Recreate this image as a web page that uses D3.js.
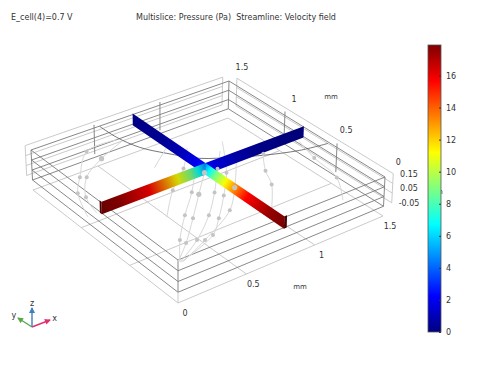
<!DOCTYPE html>
<html>
<head>
<meta charset="utf-8">
<script src="https://cdn.jsdelivr.net/npm/d3@7"></script>
<style>
  html, body { margin: 0; padding: 0; background: #fff; }
  svg { display: block; }
  text { font-family: "DejaVu Sans", sans-serif; fill: #333; }
</style>
</head>
<body>
<div id="container"></div>
<script>
/* CONSTANTS AND DATA */
const width = 498;
const height = 378;

const xTicks = [0, 0.5, 1, 1.5];
const yTicks = [0, 0.5, 1, 1.5];
const zTicks = [0.15, 0.05, -0.05];
const zLevels = [0.15, 0.05, -0.05, -0.15];
const zFloor = -0.25;
const barTicks = [0, 2, 4, 6, 8, 10, 12, 14, 16];
const barMax = 17.9;

// jet colormap
const jetValues = [0, 2.24, 6.71, 11.19, 15.66, 17.9];
const jetColors = ["#00007f", "#0000ff", "#00ffff", "#ffff00", "#ff0000", "#7f0000"];

// pressure, each arm runs from the centre out
const armFraction = [0, 0.08, 0.16, 0.24, 0.36, 0.56, 0.85, 1];
const pressureHigh = [4.5, 6.7, 8.9, 10.3, 12.5, 15.7, 17.5, 17.9];
const pressureLow = [2.5, 2, 1.6, 1.2, 0.8, 0.35, 0.15, 0.1];
const sliceX = 0.77;
const sliceY = 0.78;
const sliceZ = [0.16, 0.04];

// streamlines in mm on the floor plane
const streamlines = [
  [[0.255, 0.356], [0.415, 0.494], [0.613, 0.692], [0.803, 0.887], [0.982, 1.066]],
  [[0.264, 0.349], [0.405, 0.543], [0.594, 0.748], [0.783, 0.931], [1.027, 1.205]],
  [[0.265, 0.347], [0.487, 0.481], [0.709, 0.661], [0.892, 0.848], [1.073, 1.056], [1.215, 1.213]],
  [[0.27, 0.345], [0.596, 0.468], [0.736, 0.598], [0.915, 0.787], [1.088, 0.987], [1.296, 1.298]],
  [[0.28, 0.34], [0.525, 0.452], [0.842, 0.63], [1.022, 0.82], [1.221, 1.062]],
  [[0.493, 0.794], [0.704, 1.017], [0.909, 1.179], [1.076, 1.358]],
  [[0.174, 1.076], [0.225, 1.257], [0.364, 1.435], [0.57, 1.556], [0.802, 1.65]],
  [[0.103, 1.072], [0.21, 1.321], [0.329, 1.458], [0.543, 1.672], [0.78, 1.68]],
  [[1.059, 0.503], [1.218, 0.713], [1.287, 0.863], [1.4, 1.03], [1.425, 1.052]],
  [[1.433, 0.3], [1.566, 0.534], [1.607, 0.803], [1.661, 1.017]],
  [[0.773, 1.29], [0.992, 1.447]]
];
const bigDots = [[0.982, 1.066], [0.803, 0.887], [0.57, 1.556], [1.022, 0.82]];

// dark curve across the top of the box
const backCurve = [[0.518, 1.497], [0.525, 1.336], [0.568, 1.164], [0.659, 1.014], [0.783, 0.852],
  [0.947, 0.746], [1.102, 0.657], [1.309, 0.571], [1.488, 0.534]];

const triadNames = ["x", "y", "z"];
const triadColors = ["#e0306e", "#5aa84a", "#3f7fbf"];
const triadDx = [18, -14, 0];
const triadDy = [-7, -9, -19];

/* PROJECTION: trilinear between the four corners of the box seen in the view */
const topCorners = { o: [178, 260], r: [385, 177], l: [31, 150], b: [229, 81] };
const botCorners = { o: [178, 303], r: [383, 216], l: [33, 190], b: [228, 118] };

const xScale = d3.scaleLinear().domain([0, 1.5]).range([0, 1]);
const yScale = d3.scaleLinear().domain([0, 1.5]).range([0, 1]);
const zScale = d3.scaleLinear().domain([0.15, zFloor]).range([0, 1]);

function bilinear(c, u, v, i) {
  return c.o[i] * (1 - u) * (1 - v) + c.r[i] * u * (1 - v) + c.l[i] * (1 - u) * v + c.b[i] * u * v;
}
function project(x, y, z) {
  const u = xScale(x), v = yScale(y), t = zScale(z);
  return [0, 1].map(i => bilinear(topCorners, u, v, i) * (1 - t) + bilinear(botCorners, u, v, i) * t);
}

const jet = d3.scaleLinear().domain(jetValues).range(jetColors);

/* HTML ELEMENTS */
const svg = d3.select("#container")
  .append("svg")
  .attr("width", width)
  .attr("height", height);
const defs = svg.append("defs");

const dark = "#7a7a7a";
const light = "#c4c4c4";

function seg(a, b, color, w) {
  svg.append("line")
    .attr("x1", a[0]).attr("y1", a[1])
    .attr("x2", b[0]).attr("y2", b[1])
    .attr("stroke", color)
    .attr("stroke-width", w || 0.9);
}

// Titles
svg.append("text").attr("x", 11).attr("y", 20).style("font-size", "8px").text("E_cell(4)=0.7 V");
svg.append("text").attr("x", 136).attr("y", 20).style("font-size", "8px")
  .style("white-space", "pre")
  .text("Multislice: Pressure (Pa)  Streamline: Velocity field");

// Floor and its grid
seg(project(0, 0, zFloor), project(1.5, 0, zFloor), light);
seg(project(0, 0, zFloor), project(0, 1.5, zFloor), light);
seg(project(1.5, 1.5, zFloor), project(1.5, 0, zFloor), light);
seg(project(1.5, 1.5, zFloor), project(0, 1.5, zFloor), light);
[0.5, 1].forEach(t => {
  seg(project(t, 0, zFloor), project(t, 1.5, zFloor), light);
  seg(project(0, t, zFloor), project(1.5, t, zFloor), light);
});

// Light tick frames behind the box
const wallOffset = 1.56;
zLevels.forEach(z => {
  seg(project(0, wallOffset, z), project(1.5, wallOffset, z), light);
  seg(project(wallOffset, 0, z), project(wallOffset, 1.5, z), light);
});
[0, 1.5].forEach(t => {
  seg(project(t, wallOffset, 0.15), project(t, wallOffset, -0.15), light);
  seg(project(wallOffset, t, 0.15), project(wallOffset, t, -0.15), light);
});

// Box levels
zLevels.forEach(z => {
  seg(project(0, 1.5, z), project(1.5, 1.5, z), dark);
  seg(project(1.5, 0, z), project(1.5, 1.5, z), dark);
  seg(project(0, 0, z), project(1.5, 0, z), dark);
  seg(project(0, 0, z), project(0, 1.5, z), dark);
});
[[0, 0], [1.5, 0], [0, 1.5], [1.5, 1.5]].forEach(c => seg(project(c[0], c[1], 0.15), project(c[0], c[1], -0.15), dark));
seg(project(0, 0, -0.15), project(0, 0, zFloor), light);
[0.5, 1].forEach(t => {
  seg(project(t, 1.53, 0.15), project(t, 1.53, -0.15), dark);
  seg(project(1.53, t, 0.15), project(1.53, t, -0.15), dark);
});

// Dark curve
svg.append("path")
  .attr("d", d3.line().curve(d3.curveCatmullRom)(backCurve.map(p => project(p[0], p[1], 0.15))))
  .attr("fill", "none")
  .attr("stroke", "#555")
  .attr("stroke-width", 0.8);

// Streamlines
const streamLine = d3.line().curve(d3.curveCatmullRom);
svg.append("g").selectAll("path")
  .data(streamlines)
  .join("path")
  .attr("d", d => streamLine(d.map(p => project(p[0], p[1], zFloor))))
  .attr("fill", "none")
  .attr("stroke", "#d8d8d8")
  .attr("stroke-width", 1);

// Slices: one arm is a parallelogram filled with a gradient made from the pressure arrays
// shade is the scene lighting, the left arm faces away from the light a little
function drawArm(id, from, to, values, shade, capDelta) {
  const start = project(from[0], from[1], sliceZ[0]);
  const end = project(to[0], to[1], sliceZ[0]);
  const grad = defs.append("linearGradient")
    .attr("id", id)
    .attr("gradientUnits", "userSpaceOnUse")
    .attr("x1", start[0]).attr("y1", start[1])
    .attr("x2", end[0]).attr("y2", end[1]);
  // extra stops so the jet colours stay exact between the read values
  const fine = d3.scaleLinear().domain(armFraction).range(values);
  d3.range(0, 1.001, 0.04).forEach(f => {
    const c = d3.rgb(jet(fine(f)));
    grad.append("stop").attr("offset", f)
      .attr("stop-color", d3.rgb(c.r * shade, c.g * shade, c.b * shade).formatHex());
  });
  const corners = [
    project(from[0], from[1], sliceZ[0]),
    project(to[0], to[1], sliceZ[0]),
    project(to[0], to[1], sliceZ[1]),
    project(from[0], from[1], sliceZ[1])
  ];
  svg.append("polygon").attr("points", corners.join(" ")).attr("fill", `url(#${id})`);
  if (capDelta) {
    const cap = [
      project(to[0], to[1], sliceZ[0]),
      project(to[0] + capDelta[0], to[1] + capDelta[1], sliceZ[0]),
      project(to[0] + capDelta[0], to[1] + capDelta[1], sliceZ[1]),
      project(to[0], to[1], sliceZ[1])
    ];
    svg.append("polygon").attr("points", cap.join(" ")).attr("fill", "#4d0000");
  }
}
drawArm("armBack", [sliceX, sliceY], [sliceX, 1.5], pressureLow, 1);
drawArm("armRight", [sliceX, sliceY], [1.5, sliceY], pressureLow, 0.9);
drawArm("armLeft", [sliceX, sliceY], [0, sliceY], pressureHigh, 0.85, [0, 0.02]);
drawArm("armFront", [sliceX, sliceY], [sliceX, 0], pressureHigh, 1, [0.02, 0]);

// Streamline dots sit above the slices
const dots = streamlines.flatMap(s => s.slice(1, -1));
svg.append("g").selectAll("circle")
  .data(dots)
  .join("circle")
  .attr("cx", d => project(d[0], d[1], zFloor)[0])
  .attr("cy", d => project(d[0], d[1], zFloor)[1])
  .attr("r", 2)
  .attr("fill", "#c4c4c4");
svg.append("g").selectAll("circle")
  .data(bigDots)
  .join("circle")
  .attr("cx", d => project(d[0], d[1], zFloor)[0])
  .attr("cy", d => project(d[0], d[1], zFloor)[1])
  .attr("r", 2.6)
  .attr("fill", "#c4c4c4");

// Axis labels
function label(p, s, size) {
  svg.append("text")
    .attr("x", p[0]).attr("y", p[1])
    .attr("text-anchor", "middle")
    .attr("dominant-baseline", "central")
    .style("font-size", (size || 8) + "px")
    .text(s);
}
xTicks.forEach(t => {
  const p = project(t, 0, zFloor);
  label([p[0] + 7, p[1] + 10.5], t);
});
yTicks.forEach(t => {
  const p = project(wallOffset, t, 0.15);
  label([p[0] + 5, p[1] - 11], t);
});
const zLabelY = d3.scaleLinear().domain([0.15, -0.05]).range([174, 203]);
zTicks.forEach(t => label([409, zLabelY(t)], t));
label([300, 287], "mm", 7);
label([331, 97], "mm", 7);
label([436, 192], "mm", 7);

// Colour bar
const barX = 428, barW = 13;
const barScale = d3.scaleLinear().domain([0, barMax]).range([332, 45]);
const barGrad = defs.append("linearGradient")
  .attr("id", "jetBar")
  .attr("x1", 0).attr("y1", 1)
  .attr("x2", 0).attr("y2", 0);
jetValues.forEach((v, i) => {
  barGrad.append("stop").attr("offset", v / barMax).attr("stop-color", jetColors[i]);
});
svg.append("rect")
  .attr("x", barX).attr("y", barScale(barMax))
  .attr("width", barW).attr("height", barScale(0) - barScale(barMax))
  .attr("fill", "url(#jetBar)")
  .attr("stroke", "#555")
  .attr("stroke-width", 0.8);
const barAxis = svg.append("g")
  .attr("transform", `translate(${barX + barW}, 0)`)
  .call(d3.axisRight(barScale).tickValues(barTicks).tickSize(-2).tickPadding(5).tickFormat(d3.format("d")));
barAxis.select(".domain").remove();
barAxis.selectAll("line").attr("stroke", "#333");
barAxis.selectAll("text").style("font-size", "8px").attr("fill", null);
barAxis.attr("font-family", null);

// Triad
const triadOrigin = [32, 327];
triadNames.forEach((n, i) => {
  const end = [triadOrigin[0] + triadDx[i], triadOrigin[1] + triadDy[i]];
  const a = Math.atan2(triadDy[i], triadDx[i]);
  seg(triadOrigin, end, triadColors[i], 1.4);
  const head = [0, 3, -3].map((o, k) => {
    const back = k === 0 ? 1 : -5;
    return [end[0] + back * Math.cos(a) - o * Math.sin(a), end[1] + back * Math.sin(a) + o * Math.cos(a)];
  });
  svg.append("polygon").attr("points", head.join(" ")).attr("fill", triadColors[i]);
  label([end[0] + 5 * Math.cos(a), end[1] + 5 * Math.sin(a)], n);
});
</script>
</body>
</html>
